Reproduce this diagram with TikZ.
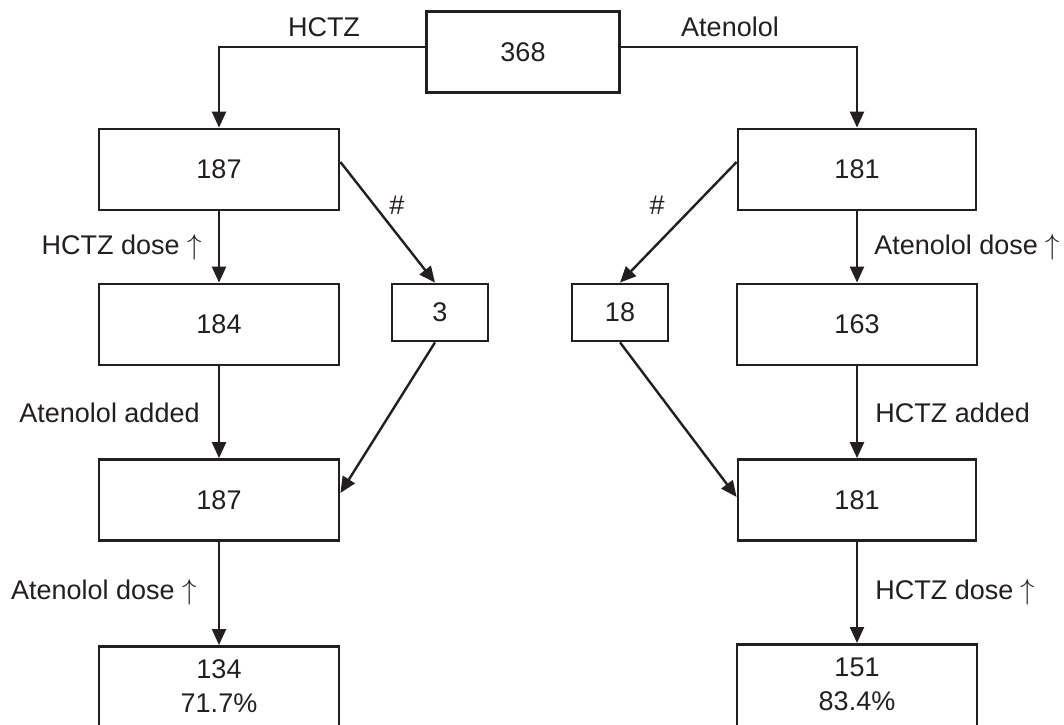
\documentclass[tikz,border=0pt]{standalone}
\usepackage{fontspec}
\setmainfont{Liberation Sans}
\usetikzlibrary{arrows.meta}
\definecolor{ink}{HTML}{231F20}
\tikzset{
  box/.style={draw=ink, text=ink, line width=1.4pt, minimum width=120pt, minimum height=40.5pt, inner sep=0pt},
  smallbox/.style={box, minimum width=48pt, minimum height=28.5pt},
  endbox/.style={box, anchor=north, align=center, inner ysep=6.65pt, text depth=40pt},
  lbl/.style={inner sep=0pt, text=ink},
  flow/.style={draw=ink, line width=1.2pt, -{Triangle[width=7pt,length=8pt]}}
}

\begin{document}
\begin{tikzpicture}[x=0.5pt, y=-0.5pt, font=\fontsize{13.5}{17}\selectfont]
\clip (0,0) rectangle (1064,724);
\fill[white] (0,0) rectangle (1064,724);
\node[box, minimum width=96.5pt] (all) at (523,52) {368};
\node[box] (hctz) at (219,169.5) {187};
\node[box, minimum width=119pt] (aten) at (857,169.5) {181};
\node[box] (hdose) at (219,324.5) {184};
\node[smallbox] (hout) at (440,312.5) {3};
\node[smallbox] (aout) at (620,312.5) {18};
\node[box] (adose) at (857,324.5) {163};
\node[box] (hadd) at (219,500) {187};
\node[box, minimum width=119pt] (aadd) at (857,500) {181};
\node[endbox] (hend) at (219,645) {134\\71.7\%};
\node[endbox] (aend) at (857,643) {151\\83.4\%};

\node[lbl] (thz) at (324,27) {HCTZ};
\node[lbl] (tat) at (730,27) {Atenolol};
\node[lbl, anchor=east] (d1) at (202,247) {HCTZ dose $\uparrow$};
\node[lbl, anchor=west] (d2) at (874,247) {Atenolol dose $\uparrow$};
\node[lbl] (s1) at (397,205) {\#};
\node[lbl] (s2) at (657,205) {\#};
\node[lbl, anchor=east] (a1) at (200,413) {Atenolol added};
\node[lbl, anchor=west] (a2) at (875,413) {HCTZ added};
\node[lbl, anchor=east] (d3) at (197,592) {Atenolol dose $\uparrow$};
\node[lbl, anchor=west] (d4) at (875,592) {HCTZ dose $\uparrow$};

\draw[flow] ([yshift=2.5pt]all.west) -| (hctz.north);
\draw[flow] ([yshift=2.5pt]all.east) -| (aten.north);
\draw[flow] (hctz.south) -- (hdose.north);
\draw[flow] (aten.south) -- (adose.north);
\draw[flow] ([yshift=3.75pt]hctz.east) -- ([xshift=-2.5pt]hout.north);
\draw[flow] ([yshift=3.75pt]aten.west) -- (aout.north);
\draw[flow] (hdose.south) -- (hadd.north);
\draw[flow] (adose.south) -- (aadd.north);
\draw[flow] ([xshift=-2.5pt]hout.south) -- ([yshift=3.5pt]hadd.east);
\draw[flow] (aout.south) -- ([yshift=1.5pt]aadd.west);
\draw[flow] (hadd.south) -- (hend.north);
\draw[flow] (aadd.south) -- (aend.north);
\end{tikzpicture}
\end{document}
